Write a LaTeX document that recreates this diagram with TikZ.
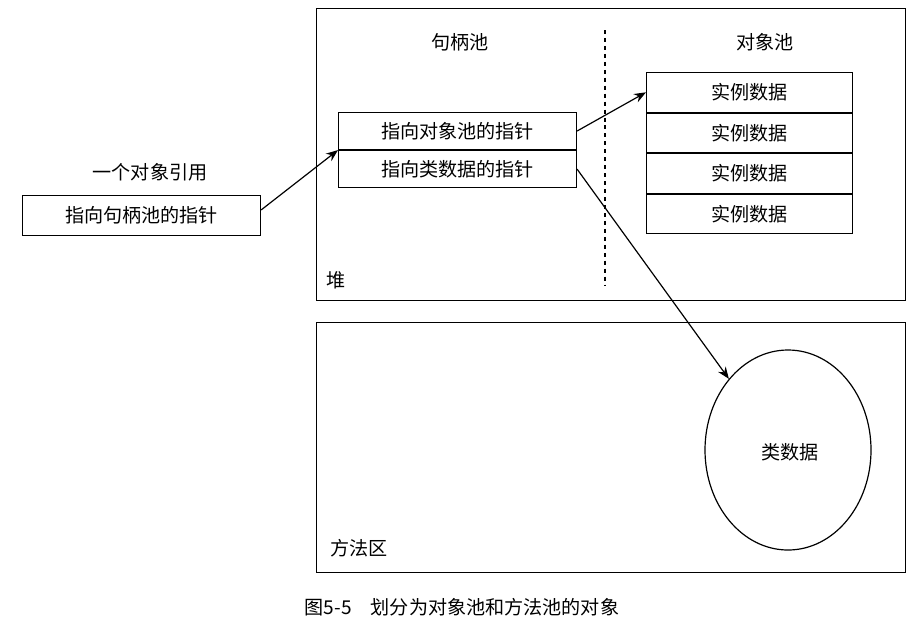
\documentclass[tikz,border=0pt]{standalone}
\usepackage{fontspec}
\setmainfont{Noto Sans CJK SC}
\usetikzlibrary{arrows.meta,shapes.geometric}
\begin{document}
\begin{tikzpicture}[x=0.0265cm,y=-0.0265cm,
  box/.style={draw,line width=0.8pt,minimum height=37*0.0265cm,inner sep=0pt,font=\Large},
  arr/.style={-{Stealth[length=9pt,width=7pt]},line width=0.9pt},
  lbl/.style={font=\Large}]
\useasboundingbox (0,0) rectangle (924,635);
\node[draw,line width=0.9pt,minimum width=589*0.0265cm,minimum height=292*0.0265cm,anchor=north west] (heap) at (316,8) {};
\node[draw,line width=0.9pt,minimum width=589*0.0265cm,minimum height=250*0.0265cm,anchor=north west] (method) at (316,322) {};
\draw[dashed,line width=0.9pt] (605,30) -- (605,285);
\node[lbl] (hp) at (460,42) {句柄池};
\node[lbl] (op) at (765,42) {对象池};
\node[box,minimum width=238*0.0265cm,anchor=north west] (h1) at (338,112) {指向对象池的指针};
\node[box,minimum width=238*0.0265cm,anchor=north] (h2) at (h1.south) {指向类数据的指针};
\node[box,minimum width=206*0.0265cm,minimum height=39.5*0.0265cm,anchor=north west] (i1) at (646,72) {实例数据};
\node[box,minimum width=206*0.0265cm,minimum height=39.5*0.0265cm,anchor=north] (i2) at (i1.south) {实例数据};
\node[box,minimum width=206*0.0265cm,minimum height=39.5*0.0265cm,anchor=north] (i3) at (i2.south) {实例数据};
\node[box,minimum width=206*0.0265cm,minimum height=39.5*0.0265cm,anchor=north] (i4) at (i3.south) {实例数据};
\node[lbl] (reft) at (150,172) {一个对象引用};
\node[box,minimum width=238*0.0265cm,minimum height=40*0.0265cm,anchor=north west] (ref) at (22,195) {指向句柄池的指针};
\node[lbl,anchor=west] (dui) at (322,280) {堆};
\node[lbl,anchor=west] (ff) at (326,548) {方法区};
\node[draw,line width=0.9pt,ellipse,minimum width=166*0.0265cm,minimum height=200*0.0265cm,inner sep=0pt] (cls) at (788,450) {};
\node[lbl] (clst) at (790,452) {类数据};
\node[font=\Large] (cap) at (462,607) {图5-5\quad 划分为对象池和方法池的对象};
\coordinate (a1) at (262,210);
\draw[arr] (ref.east |- a1) -- (h1.south west);
\draw[arr] (h1.east) -- (i1.west);
\draw[arr] (h2.east) -- (cls.north west);
\end{tikzpicture}
\end{document}
